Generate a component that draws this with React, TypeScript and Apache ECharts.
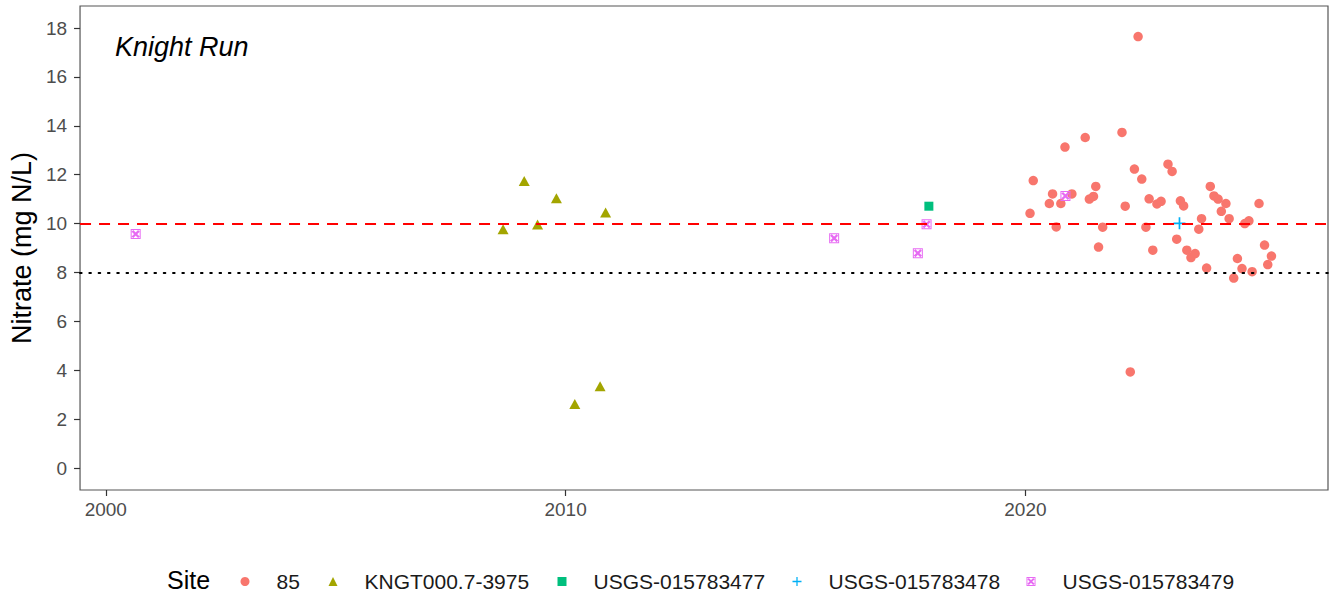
import React, { useEffect, useRef } from "react";
import * as echarts from "echarts";

const site85Years = [2020.10, 2020.17, 2020.52, 2020.59, 2020.67, 2020.77, 2020.86, 2021.01, 2021.30, 2021.39, 2021.48, 2021.53, 2021.59, 2021.68, 2022.10, 2022.17, 2022.28, 2022.37, 2022.45, 2022.53, 2022.62, 2022.69, 2022.77, 2022.86, 2022.95, 2023.10, 2023.19, 2023.29, 2023.37, 2023.44, 2023.51, 2023.60, 2023.69, 2023.77, 2023.83, 2023.94, 2024.02, 2024.10, 2024.19, 2024.26, 2024.36, 2024.43, 2024.53, 2024.61, 2024.71, 2024.77, 2024.86, 2024.93, 2025.08, 2025.20, 2025.27, 2025.35];
const site85Nitrate = [10.42, 11.76, 10.82, 11.21, 9.86, 10.82, 13.13, 11.21, 13.52, 11.00, 11.11, 11.52, 9.04, 9.85, 13.73, 10.71, 3.93, 12.23, 17.65, 11.82, 9.85, 11.01, 8.91, 10.80, 10.91, 12.43, 12.13, 9.36, 10.93, 10.72, 8.91, 8.61, 8.77, 9.77, 10.20, 8.18, 11.52, 11.13, 11.00, 10.50, 10.82, 10.20, 7.77, 8.57, 8.16, 10.00, 10.11, 8.03, 10.82, 9.12, 8.32, 8.67];

const kngtYears = [2008.64, 2009.10, 2009.39, 2009.80, 2010.20, 2010.75, 2010.87];
const kngtNitrate = [9.77, 11.74, 9.96, 11.04, 2.62, 3.34, 10.45];

const usgs477Years = [2017.90];
const usgs477Nitrate = [10.71];

const usgs478Years = [2023.35];
const usgs478Nitrate = [10.01];

const usgs479Years = [2000.65, 2015.84, 2017.66, 2017.85, 2020.87];
const usgs479Nitrate = [9.57, 9.40, 8.79, 9.97, 11.13];

const siteNames = ["85", "KNGT000.7-3975", "USGS-015783477", "USGS-015783478", "USGS-015783479"];
const siteColors = ["#F8766D", "#A3A500", "#00BF7D", "#00B0F6", "#E76BF3"];

const xTicks = [2000, 2010, 2020];
const yTicks = [0, 2, 4, 6, 8, 10, 12, 14, 16, 18];
const guideMcl = 10;
const guideAlert = 8;

const FONT = "'Liberation Sans', Arial, Helvetica, sans-serif";

const plusPath = "path://M4.3 0 H5.7 V4.3 H10 V5.7 H5.7 V10 H4.3 V5.7 H0 V4.3 H4.3 Z";
const boxXPath =
  "path://M0 0 L10 0 L10 10 L0 10 Z M1.0 1.0 L1.0 9.0 L9.0 9.0 L9.0 1.0 Z " +
  "M1.0 2.6 L2.6 1.0 L9.0 7.4 L7.4 9.0 Z M7.4 1.0 L9.0 2.6 L2.6 9.0 L1.0 7.4 Z";

const zip = (xs: number[], ys: number[]) => xs.map((x, i) => [x, ys[i]]);

export default function App() {
  const ref = useRef<HTMLDivElement>(null);

  useEffect(() => {
    if (!ref.current) return;
    const chart = echarts.init(ref.current, undefined, { renderer: "svg" });

    const symbols: any[] = ["circle", "triangle", "rect", plusPath, boxXPath];
    const sizes: any[] = [9.5, [11, 10], 9, 12, 10];
    const datasets = [
      zip(site85Years, site85Nitrate),
      zip(kngtYears, kngtNitrate),
      zip(usgs477Years, usgs477Nitrate),
      zip(usgs478Years, usgs478Nitrate),
      zip(usgs479Years, usgs479Nitrate),
    ];

    const series: any[] = siteNames.map((name, i) => ({
      name,
      type: "scatter",
      data: datasets[i],
      symbol: symbols[i],
      symbolSize: sizes[i],
      itemStyle: { color: siteColors[i], opacity: 1 },
      z: 3,
    }));

    series.push({
      name: "guides",
      type: "scatter",
      data: [],
      z: 4,
      markLine: {
        silent: true,
        symbol: "none",
        label: { show: false },
        animation: false,
        data: [
          { yAxis: guideMcl, lineStyle: { color: "#FF0000", width: 2, type: [11, 8] } },
          { yAxis: guideAlert, lineStyle: { color: "#000000", width: 2, type: [1.6, 7.7], cap: "round" } },
        ],
      },
    });

    const legendLefts = [235.5, 323.5, 552.5, 787.5, 1021.5];
    const legends = siteNames.map((name, i) => ({
      left: legendLefts[i],
      top: 566,
      data: [name],
      itemWidth: 9,
      itemHeight: 9,
      selectedMode: false,
      textStyle: { fontSize: 21, color: "#1a1a1a", fontFamily: FONT, padding: [0, 0, 0, 22] },
    }));

    chart.setOption({
      animation: false,
      backgroundColor: "#ffffff",
      textStyle: { fontFamily: FONT },
      grid: {
        left: 78,
        right: 3,
        top: 6,
        bottom: 107,
        show: true,
        borderColor: "#555555",
        borderWidth: 1.2,
        backgroundColor: "transparent",
      },
      legend: legends,
      xAxis: {
        type: "value",
        min: 1999.44,
        max: 2026.58,
        splitLine: { show: false },
        axisLine: { show: false, onZero: false },
        axisTick: { show: true, length: 6, lineStyle: { color: "#333333", width: 1.2 }, customValues: xTicks },
        axisLabel: {
          show: true,
          margin: 10,
          fontSize: 19,
          color: "#4D4D4D",
          fontFamily: FONT,
          customValues: xTicks,
          formatter: (v: number) => String(v),
        },
      },
      yAxis: {
        type: "value",
        min: -0.9,
        max: 18.9,
        name: "Nitrate (mg N/L)",
        nameLocation: "middle",
        nameGap: 40,
        nameTextStyle: { fontSize: 27, color: "#000000", fontFamily: FONT },
        splitLine: { show: false },
        axisLine: { show: false, onZero: false },
        axisTick: { show: true, length: 6, lineStyle: { color: "#333333", width: 1.2 }, customValues: yTicks },
        axisLabel: {
          show: true,
          margin: 13,
          fontSize: 19,
          color: "#4D4D4D",
          fontFamily: FONT,
          customValues: yTicks,
          formatter: (v: number) => String(v),
        },
      },
      graphic: [
        {
          type: "text",
          left: 115,
          top: 33,
          style: { text: "Knight Run", fontSize: 27, fontStyle: "italic", fill: "#000000", fontFamily: FONT },
        },
        {
          type: "text",
          left: 167,
          top: 567,
          style: { text: "Site", fontSize: 25, fill: "#000000", fontFamily: FONT },
        },
      ],
      series,
    });

    return () => chart.dispose();
  }, []);

  return (
    <div
      ref={ref}
      style={{ position: "fixed", left: 0, top: 0, width: 1331, height: 597, background: "#fff" }}
    />
  );
}
